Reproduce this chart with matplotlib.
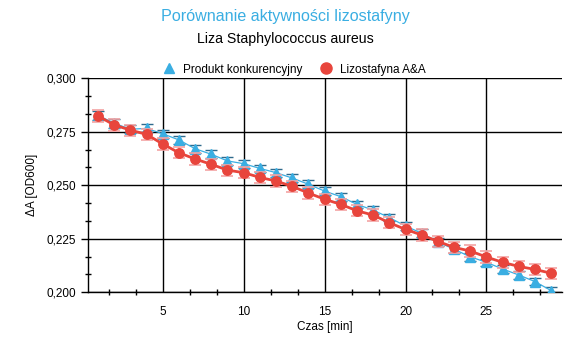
import numpy as np
import matplotlib.pyplot as plt
from matplotlib.lines import Line2D
from matplotlib.ticker import MultipleLocator, FuncFormatter

plt.rcParams['font.family'] = ['Liberation Sans', 'DejaVu Sans']

# czas [min]
czas = list(range(1, 30))

# Produkt konkurencyjny
konkurencja = [0.2827, 0.2790, 0.2762, 0.2766, 0.2741, 0.2712, 0.2671, 0.2645, 0.2614, 0.2601,
               0.2579, 0.2559, 0.2534, 0.2505, 0.2473, 0.2447, 0.2411, 0.2384, 0.2349, 0.2310,
               0.2276, 0.2236, 0.2201, 0.2166, 0.2140, 0.2109, 0.2081, 0.2050, 0.2008]
konkurencja_err = [0.0020, 0.0020, 0.0019, 0.0019, 0.0019, 0.0018, 0.0018, 0.0018, 0.0018, 0.0018,
                   0.0018, 0.0018, 0.0018, 0.0018, 0.0018, 0.0018, 0.0018, 0.0018, 0.0018, 0.0018,
                   0.0018, 0.0018, 0.0018, 0.0018, 0.0018, 0.0018, 0.0018, 0.0018, 0.0018]

# Lizostafyna A&A
lizostafyna = [0.2824, 0.2782, 0.2758, 0.2738, 0.2693, 0.2652, 0.2623, 0.2598, 0.2571, 0.2559,
               0.2537, 0.2520, 0.2495, 0.2464, 0.2435, 0.2411, 0.2381, 0.2361, 0.2325, 0.2294,
               0.2268, 0.2238, 0.2210, 0.2193, 0.2165, 0.2140, 0.2121, 0.2107, 0.2089]
lizostafyna_err = [0.0028, 0.0027, 0.0026, 0.0026, 0.0026, 0.0026, 0.0026, 0.0026, 0.0026, 0.0026,
                   0.0026, 0.0026, 0.0026, 0.0026, 0.0026, 0.0026, 0.0026, 0.0026, 0.0026, 0.0026,
                   0.0026, 0.0026, 0.0026, 0.0026, 0.0026, 0.0026, 0.0026, 0.0026, 0.0026]

blue = '#3aaee2'
red = '#e8453c'

fig = plt.figure(figsize=(5.71, 3.48), dpi=100)
ax = fig.add_axes([0.1546, 0.160, 0.8291, 0.615])

ax.errorbar(czas, konkurencja, yerr=konkurencja_err, color=blue, lw=0.9,
            marker='^', ms=7, mec=blue, ecolor='#2f6a8c', elinewidth=1.0,
            capsize=4.5, capthick=1.0, zorder=3)
ax.errorbar(czas, lizostafyna, yerr=lizostafyna_err, color=red, lw=2.0,
            marker='o', ms=6.8, mec=red, ecolor='#f4a3a3', elinewidth=1.2,
            capsize=4.5, capthick=1.2, zorder=4)

ax.set_xlim(0.4, 29.65)
ax.set_ylim(0.2, 0.3)

ax.xaxis.set_major_locator(MultipleLocator(5))
ax.xaxis.set_minor_locator(MultipleLocator(5 / 3))
ax.yaxis.set_major_locator(MultipleLocator(0.025))
ax.yaxis.set_minor_locator(MultipleLocator(0.025 / 3))
ax.yaxis.set_major_formatter(FuncFormatter(lambda v, p: ('%.3f' % v).replace('.', ',')))
ax.xaxis.set_major_formatter(FuncFormatter(lambda v, p: '' if v <= 0 else '%d' % v))

ax.tick_params(axis='x', which='major', length=0, pad=10, labelsize=8.5)
ax.tick_params(axis='x', which='minor', direction='inout', length=5, width=1)
ax.tick_params(axis='y', which='major', direction='out', length=5, width=1, pad=4, labelsize=8.5)
ax.tick_params(axis='y', which='minor', direction='inout', length=5, width=1)

ax.grid(True, which='major', color='black', lw=1.0, zorder=1)
ax.set_axisbelow(True)
for s in ['top', 'right']:
    ax.spines[s].set_visible(False)
for s in ['left', 'bottom']:
    ax.spines[s].set_linewidth(1.0)

ax.set_xlabel('Czas [min]', fontsize=8.5, labelpad=2)
ax.set_ylabel('ΔA [OD600]', fontsize=8.5, labelpad=6)

fig.text(0.5, 0.952, 'Porównanie aktywności lizostafyny', color=blue,
         fontsize=11.6, ha='center', va='center')
fig.text(0.5, 0.889, 'Liza Staphylococcus aureus', color='black',
         fontsize=10.2, ha='center', va='center')

handles = [Line2D([], [], ls='none', marker='^', ms=7, color=blue),
           Line2D([], [], ls='none', marker='o', ms=8, color=red)]
fig.legend(handles, ['Produkt konkurencyjny', 'Lizostafyna A&A'], ncol=2,
           loc='center', bbox_to_anchor=(0.515, 0.80), frameon=False,
           fontsize=8.5, handletextpad=0.6, columnspacing=1.4, handlelength=1.2)

fig.savefig('out.png', dpi=100)
